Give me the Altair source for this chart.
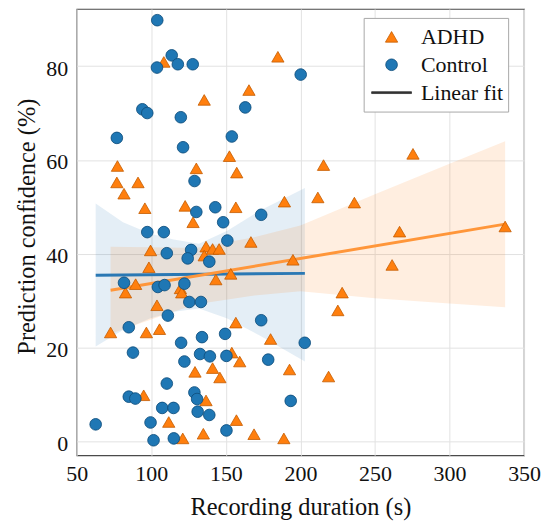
import altair as alt
import pandas as pd

# ---- data ----
adhd_x = [108.4, 135.5, 165.5, 77.3, 76.9, 91.1, 81.7, 95.7, 130.2, 152.4,
          157.3, 122.7, 156.7, 128.0, 184.9, 275.5, 215.5, 189.3, 211.7, 236.2,
          266.5, 337.3, 166.8, 195.0, 261.5, 228.0, 225.1, 180.0, 192.7, 218.9,
          168.9, 188.9, 99.5, 98.4, 82.7, 89.5, 103.8, 72.7, 96.7, 105.5,
          119.5, 120.4, 136.7, 141.1, 145.5, 135.5, 143.3, 153.3, 156.7, 154.0,
          159.3, 129.3, 141.1, 146.0, 94.9, 136.7, 111.7, 157.1, 121.1, 134.9]
adhd_y = [80.9, 72.8, 74.9, 58.7, 55.2, 55.2, 52.8, 49.7, 58.2, 60.8,
          57.3, 50.2, 49.9, 46.7, 82.0, 61.3, 58.9, 51.1, 52.0, 50.9,
          44.7, 45.8, 42.5, 38.7, 37.6, 31.7, 27.9, 21.8, 15.3, 13.8,
          1.5, 0.6, 40.7, 37.1, 31.7, 33.5, 29.0, 23.2, 23.2, 23.9,
          32.6, 31.7, 41.5, 41.0, 41.0, 39.6, 34.5, 35.7, 25.3, 18.9,
          17.0, 14.8, 15.6, 13.6, 9.8, 8.7, 4.1, 4.5, 0.6, 1.6]

ctrl_x = [104.0, 113.7, 103.8, 117.8, 127.8, 94.0, 97.3, 119.8, 76.9, 121.3,
          154.0, 163.0, 129.0, 130.2, 142.9, 148.2, 97.3, 108.4, 151.0, 200.2,
          173.7, 110.4, 126.7, 124.4, 138.9, 81.7, 104.4, 108.9, 122.2, 125.5,
          133.3, 111.1, 84.9, 87.7, 120.0, 134.0, 149.5, 122.2, 132.7, 139.3,
          150.4, 110.4, 84.9, 89.3, 128.9, 130.7, 107.3, 114.9, 131.1, 138.9,
          62.7, 99.5, 101.5, 115.1, 150.4, 173.7, 202.9, 178.4, 193.5]
ctrl_y = [89.8, 82.3, 79.7, 80.4, 80.4, 70.8, 70.0, 69.1, 64.7, 62.7,
          65.0, 71.2, 55.5, 48.9, 49.9, 46.7, 44.6, 44.6, 42.8, 78.2,
          48.3, 40.1, 40.8, 39.0, 38.3, 33.8, 32.9, 33.3, 33.6, 29.7,
          29.7, 26.8, 24.3, 18.9, 21.0, 22.2, 22.9, 17.0, 18.6, 18.1,
          18.2, 12.3, 9.5, 9.1, 10.4, 9.0, 7.1, 7.1, 6.3, 5.6,
          3.6, 4.0, 0.2, 0.6, 2.3, 25.8, 21.0, 17.4, 8.6]

# linear fits and their confidence bands
adhd_fit_x = [72.7, 337.3]
adhd_fit_y = [32.2, 46.3]
adhd_band_x = [72.7, 110, 130, 169, 200, 250, 300, 337.3]
adhd_band_hi = [41.5, 41.3, 41.2, 43.5, 46.0, 52.7, 59.2, 64.0]
adhd_band_lo = [22.9, 27.1, 29.2, 31.1, 32.0, 30.5, 29.4, 28.6]

ctrl_fit_x = [62.7, 203.0]
ctrl_fit_y = [35.4, 35.8]
ctrl_band_x = [62.7, 81, 99, 115, 132, 151, 173, 203]
ctrl_band_hi = [50.7, 46.7, 44.3, 43.0, 42.1, 44.9, 49.2, 54.0]
ctrl_band_lo = [20.2, 23.7, 26.2, 27.6, 28.3, 26.2, 22.5, 17.0]

groups = ["ADHD", "Control", "Linear fit"]
x_ticks = [50, 100, 150, 200, 250, 300, 350]
y_ticks = [0, 20, 40, 60, 80]

# marker shapes as unit-square symbol paths (symbol size 1600 -> 20 px per unit)
TRI = "M0,-0.266L0.3075,0.266L-0.3075,0.266Z"
CIRC = "M0.2925,0A0.2925,0.2925 0 1,1 -0.2925,0A0.2925,0.2925 0 1,1 0.2925,0Z"
BAR = "M-1,-0.045L1,-0.045L1,0.045L-1,0.045Z"

# ---- tables ----
points = pd.DataFrame({
    "x": adhd_x + ctrl_x,
    "y": adhd_y + ctrl_y,
    "group": ["ADHD"] * len(adhd_x) + ["Control"] * len(ctrl_x),
})
band_a = pd.DataFrame({"x": adhd_band_x, "lo": adhd_band_lo, "hi": adhd_band_hi})
band_c = pd.DataFrame({"x": ctrl_band_x, "lo": ctrl_band_lo, "hi": ctrl_band_hi})
fit_a = pd.DataFrame({"x": adhd_fit_x, "y": adhd_fit_y})
fit_c = pd.DataFrame({"x": ctrl_fit_x, "y": ctrl_fit_y})

FONT = "Liberation Serif"
xs = alt.Scale(domain=[50, 350], nice=False, zero=False)
ys = alt.Scale(domain=[-3, 92.2], nice=False, zero=False)

x_axis = alt.Axis(values=x_ticks, title="Recording duration (s)", grid=True,
                  ticks=False, domain=False, labelPadding=8, labelFlush=False,
                  labelOverlap=False, titleY=59, titleBaseline="alphabetic",
                  labelFont=FONT, titleFont=FONT)
y_axis = alt.Axis(values=y_ticks, title="Prediction confidence (%)", grid=True,
                  ticks=False, domain=False, labelPadding=9, labelOverlap=False,
                  labelOffset=2, labelFont=FONT, titleFont=FONT,
                  titleAngle=270, titleX=-42, titleY=218, titleAlign="center",
                  titleBaseline="alphabetic")

X = alt.X("x:Q", scale=xs, axis=x_axis)
Y = alt.Y("y:Q", scale=ys, axis=y_axis)

band_c_layer = alt.Chart(band_c).mark_area(color="#1f77b4", opacity=0.12).encode(
    x=X, y=alt.Y("lo:Q", scale=ys, axis=y_axis), y2="hi:Q")
band_a_layer = alt.Chart(band_a).mark_area(color="#ff7f0e", opacity=0.13).encode(
    x=X, y=alt.Y("lo:Q", scale=ys, axis=y_axis), y2="hi:Q")
line_c = alt.Chart(fit_c).mark_line(color="#2a78b4", strokeWidth=3).encode(x=X, y=Y)
line_a = alt.Chart(fit_a).mark_line(color="#ff963a", strokeWidth=3).encode(x=X, y=Y)

legend = alt.Legend(
    title=None, orient="none", legendX=288, legendY=9,
    padding=5, clipHeight=28, rowPadding=0,
    labelFont=FONT, labelFontSize=22, labelColor="#111",
    labelOffset=9, symbolOffset=2.5, symbolSize=1600, symbolStrokeWidth=0.8,
    strokeColor="#a8a8a8", fillColor="white", cornerRadius=0,
)

pts = alt.Chart(points).mark_point(filled=True, opacity=1, size=1600, strokeWidth=0.8).encode(
    x=X, y=Y,
    fill=alt.Fill("group:N", scale=alt.Scale(domain=groups, range=["#ff7f0e", "#1f77b4", "#333333"]), legend=legend),
    stroke=alt.Stroke("group:N", scale=alt.Scale(domain=groups, range=["#c45c00", "#0f4c7a", "#333333"]), legend=legend),
    shape=alt.Shape("group:N", scale=alt.Scale(domain=groups, range=[TRI, CIRC, BAR]), legend=legend),
)

chart = alt.layer(band_c_layer, band_a_layer, line_c, line_a, pts).properties(
    width=449, height=448,
    autosize=alt.AutoSizeParams(type="none"),
    padding={"left": 69, "top": 0, "right": 18, "bottom": 65},
).configure(
    font=FONT
).configure_view(
    stroke="#4a4a4a", strokeWidth=1.2
).configure_axis(
    labelFont=FONT, labelFontSize=22, labelColor="#111",
    titleFont=FONT, titleFontSize=24.5, titleFontWeight="normal", titleColor="#111",
    gridColor="#e2e2e2", gridWidth=1,
).configure_legend(
    labelFont=FONT
)

chart.save("out.html", embed_options={"renderer": "svg", "actions": False})
